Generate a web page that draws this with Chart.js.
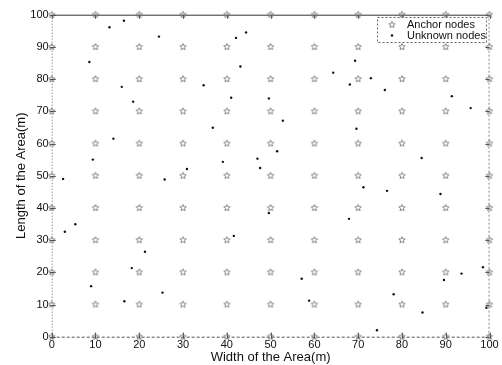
<!DOCTYPE html>
<html>
<head>
<meta charset="utf-8">
<script src="https://cdn.jsdelivr.net/npm/chart.js@4.4.0/dist/chart.umd.min.js"></script>
<style>
    html, body { margin: 0; padding: 0; background: #fff; }
    #wrap { width: 502px; height: 365px; }
</style>
</head>
<body>
<div id="wrap"><canvas id="nodeChart" width="502" height="365"></canvas></div>
<script>
// anchor nodes sit on a regular grid, both axes use the same values
const gridValues = [0, 10, 20, 30, 40, 50, 60, 70, 80, 90, 100];
const tickValues = [0, 10, 20, 30, 40, 50, 60, 70, 80, 90, 100];

// unknown nodes
const unknownX = [16.5, 13.2, 24.5, 8.6, 16.0, 18.6, 14.1, 9.4, 2.6, 25.8,
                  44.4, 42.1, 43.1, 34.7, 41.0, 49.6, 36.8, 39.1, 47.0, 47.6,
                  30.9, 69.3, 64.3, 68.1, 72.9, 76.1, 52.8, 69.6, 51.5, 91.4,
                  95.7, 84.5, 5.4, 3.0, 21.3, 18.3, 9.0, 25.3, 16.6, 49.6,
                  41.6, 71.2, 67.9, 57.1, 58.8, 74.3, 76.6, 88.8, 98.5, 93.6,
                  89.6, 78.1, 84.7, 99.3];
const unknownY = [98.1, 96.1, 93.2, 85.3, 77.6, 73.0, 61.5, 55.0, 49.0, 48.8,
                  94.5, 92.8, 83.9, 78.1, 74.2, 74.0, 64.9, 54.3, 55.3, 52.4,
                  52.1, 85.7, 82.0, 78.3, 80.3, 76.6, 67.1, 64.6, 57.6, 74.7,
                  71.0, 55.5, 34.9, 32.6, 26.4, 21.3, 15.7, 13.7, 11.0, 38.4,
                  31.3, 46.4, 36.6, 18.0, 11.2, 2.0, 45.3, 44.3, 21.6, 19.6,
                  17.6, 13.2, 7.5, 9.0];

const seriesLabels = ['Anchor nodes', 'Unknown nodes'];
const axisTitles = ['Width of the Area(m)', 'Length of the Area(m)'];

const FONT = "'Liberation Sans', Arial, sans-serif";

function makeStar(r, color) {
    const c = document.createElement('canvas');
    const s = Math.ceil(r * 2) + 3;
    c.width = s;
    c.height = s;
    const g = c.getContext('2d');
    g.beginPath();
    for (let i = 0; i < 10; i++) {
        const ang = -Math.PI / 2 + i * Math.PI / 5;
        const rr = i % 2 ? r * 0.45 : r;
        g.lineTo(s / 2 + rr * Math.cos(ang), s / 2 + rr * Math.sin(ang));
    }
    g.closePath();
    g.strokeStyle = color;
    g.lineWidth = 0.9;
    g.stroke();
    return c;
}

const starImg = makeStar(3.4, '#7a7a7a');

const anchorPoints = [];
gridValues.forEach(function (gx) {
    gridValues.forEach(function (gy) {
        anchorPoints.push({ x: gx, y: gy });
    });
});
const unknownPoints = unknownX.map((v, i) => ({ x: v, y: unknownY[i] }));

// box, inward ticks and the legend, MATLAB style
const framePlugin = {
    id: 'frame',
    beforeDatasetsDraw(chart) {
        const { ctx, chartArea: a, scales } = chart;
        ctx.save();
        ctx.lineWidth = 1;

        ctx.strokeStyle = '#333';
        ctx.setLineDash([]);
        ctx.beginPath(); ctx.moveTo(a.left, a.top + 0.5); ctx.lineTo(a.right, a.top + 0.5); ctx.stroke();

        ctx.strokeStyle = '#666';
        ctx.setLineDash([1, 2]);
        ctx.beginPath(); ctx.moveTo(a.left + 0.5, a.top); ctx.lineTo(a.left + 0.5, a.bottom); ctx.stroke();

        ctx.strokeStyle = '#555';
        ctx.setLineDash([3, 2]);
        ctx.beginPath(); ctx.moveTo(a.left, a.bottom + 0.5); ctx.lineTo(a.right, a.bottom + 0.5); ctx.stroke();

        ctx.strokeStyle = '#888';
        ctx.setLineDash([2, 2]);
        ctx.beginPath(); ctx.moveTo(a.right - 0.5, a.top); ctx.lineTo(a.right - 0.5, a.bottom); ctx.stroke();

        ctx.setLineDash([]);
        ctx.strokeStyle = '#444';
        scales.x.ticks.forEach(function (t) {
            const px = Math.round(scales.x.getPixelForValue(t.value)) + 0.5;
            ctx.beginPath(); ctx.moveTo(px, a.bottom + 2); ctx.lineTo(px, a.bottom - 4); ctx.stroke();
            ctx.beginPath(); ctx.moveTo(px, a.top); ctx.lineTo(px, a.top + 4); ctx.stroke();
        });
        scales.y.ticks.forEach(function (t) {
            const py = Math.round(scales.y.getPixelForValue(t.value)) + 0.5;
            ctx.beginPath(); ctx.moveTo(a.left - 2, py); ctx.lineTo(a.left + 4, py); ctx.stroke();
            ctx.beginPath(); ctx.moveTo(a.right, py); ctx.lineTo(a.right - 4, py); ctx.stroke();
        });
        ctx.restore();
    },
    afterDatasetsDraw(chart) {
        const { ctx } = chart;
        const box = { left: 377.5, top: 17.5, right: 486.5, bottom: 42.5 };
        ctx.save();
        ctx.fillStyle = '#fff';
        ctx.fillRect(box.left, box.top, box.right - box.left, box.bottom - box.top);
        ctx.strokeStyle = '#666';
        ctx.lineWidth = 1;
        ctx.setLineDash([2, 2]);
        ctx.strokeRect(box.left, box.top, box.right - box.left, box.bottom - box.top);
        ctx.setLineDash([]);

        const rows = [24.7, 35.5];
        ctx.drawImage(starImg, 392 - starImg.width / 2, rows[0] - starImg.height / 2);
        ctx.fillStyle = '#111';
        ctx.beginPath(); ctx.arc(392, rows[1], 1.2, 0, Math.PI * 2); ctx.fill();

        ctx.font = '11px ' + FONT;
        ctx.textBaseline = 'middle';
        ctx.textAlign = 'left';
        ctx.fillStyle = '#111';
        chart.data.datasets.forEach(function (ds, i) {
            ctx.fillText(ds.label, 407, rows[i]);
        });
        ctx.restore();
    }
};

const ctx = document.getElementById('nodeChart').getContext('2d');

window.nodeChart = new Chart(ctx, {
    type: 'scatter',
    data: {
        datasets: [
            {
                label: seriesLabels[0],
                data: anchorPoints,
                pointStyle: starImg,
                pointRadius: 3.5,
                clip: false
            },
            {
                label: seriesLabels[1],
                data: unknownPoints,
                pointStyle: 'circle',
                pointRadius: 1.2,
                pointBackgroundColor: '#111',
                pointBorderWidth: 0,
                clip: false
            }
        ]
    },
    options: {
        responsive: false,
        animation: false,
        devicePixelRatio: 1,
        layout: {
            padding: { left: 0, right: 12.5, top: 14.7, bottom: 0 }
        },
        scales: {
            x: {
                type: 'linear',
                min: 0,
                max: 100,
                afterBuildTicks: function (scale) {
                    scale.ticks = tickValues.map(v => ({ value: v }));
                },
                afterFit: function (scale) { scale.height = 28.3; },
                grid: { display: false, drawTicks: false },
                border: { display: false },
                ticks: {
                    padding: 2,
                    color: '#111',
                    maxRotation: 0,
                    autoSkip: false,
                    font: { family: FONT, size: 11 }
                },
                title: {
                    display: true,
                    text: axisTitles[0],
                    color: '#111',
                    padding: { top: 0, bottom: 0 },
                    font: { family: FONT, size: 13 }
                }
            },
            y: {
                type: 'linear',
                min: 0,
                max: 100,
                afterBuildTicks: function (scale) {
                    scale.ticks = tickValues.map(v => ({ value: v }));
                },
                afterFit: function (scale) { scale.width = 51.7; },
                grid: { display: false, drawTicks: false },
                border: { display: false },
                ticks: {
                    padding: 3,
                    color: '#111',
                    autoSkip: false,
                    font: { family: FONT, size: 11 }
                },
                title: {
                    display: true,
                    text: axisTitles[1],
                    color: '#111',
                    padding: { top: 14, bottom: 0 },
                    font: { family: FONT, size: 13 }
                }
            }
        },
        plugins: {
            legend: { display: false },
            tooltip: { enabled: false }
        }
    },
    plugins: [framePlugin]
});
</script>
</body>
</html>
